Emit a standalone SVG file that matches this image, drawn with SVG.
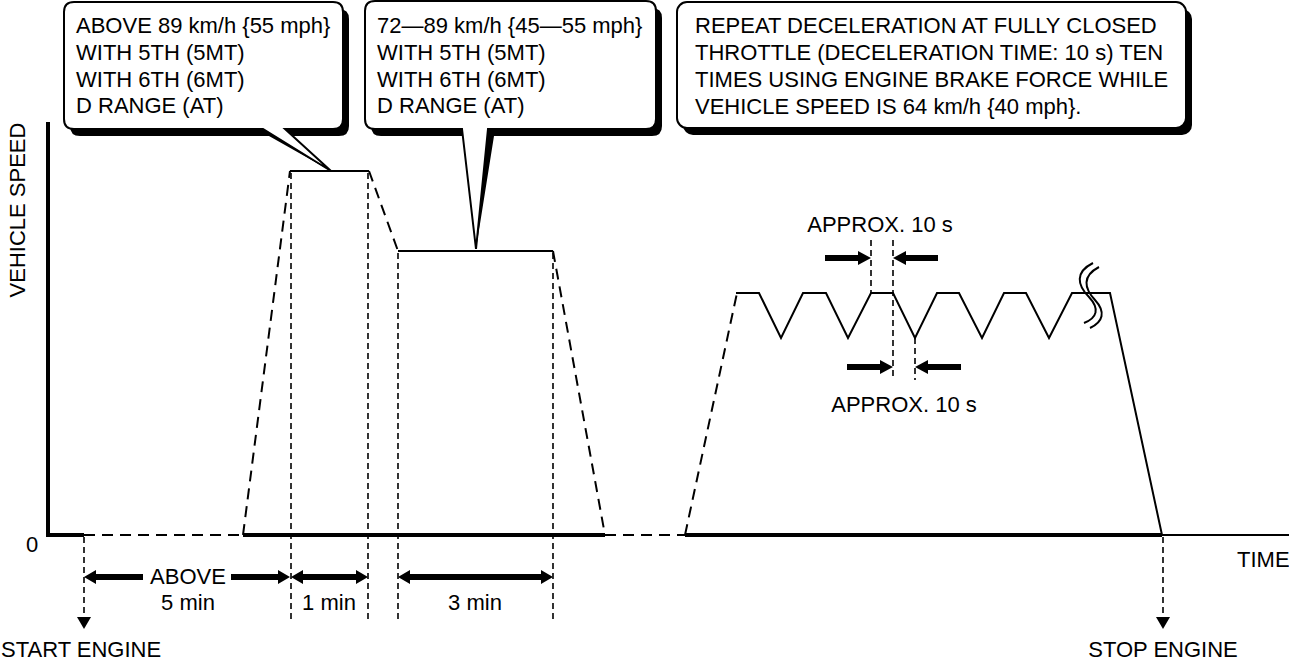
<svg xmlns="http://www.w3.org/2000/svg" width="1289" height="662" viewBox="0 0 1289 662">
<style>
text{font-family:"Liberation Sans",Arial,sans-serif;font-size:22px;fill:#000}
.shadow{fill:#000;stroke:none}
.bubble{fill:#fff;stroke:#000;stroke-width:2}
.thick{stroke:#000;stroke-width:4;fill:none}
.thin{stroke:#000;stroke-width:2;fill:none;stroke-linejoin:miter}
.dash{stroke:#000;stroke-width:2;fill:none;stroke-dasharray:11 7}
.guide{stroke:#000;stroke-width:1.6;fill:none;stroke-dasharray:6 4}
.arr{fill:#000;stroke:none}
</style>
<rect width="1289" height="662" fill="#fff"/>

<g id="callout1">
<path class="shadow" d="M80,9 H339 Q349,9 349,19 V126 Q349,136 339,136 H291 L331,171 L269,136 H80 Q70,136 70,126 V19 Q70,9 80,9 Z"/>
<path class="bubble" d="M74,2 H333 Q343,2 343,12 V119 Q343,129 333,129 H285 L331,171 L263,129 H74 Q64,129 64,119 V12 Q64,2 74,2 Z"/>
<text x="76" y="33">ABOVE 89 km/h {55 mph}</text>
<text x="76" y="60">WITH 5TH (5MT)</text>
<text x="76" y="87">WITH 6TH (6MT)</text>
<text x="76" y="113">D RANGE (AT)</text>
</g>

<g id="callout2">
<path class="shadow" d="M381,8 H652 Q662,8 662,18 V126 Q662,136 652,136 H494 L476,249 L468,136 H381 Q371,136 371,126 V18 Q371,8 381,8 Z"/>
<path class="bubble" d="M375,1 H646 Q656,1 656,11 V119 Q656,129 646,129 H488 L476,249 L462,129 H375 Q365,129 365,119 V11 Q365,1 375,1 Z"/>
<text x="377" y="33">72—89 km/h {45—55 mph}</text>
<text x="377" y="60">WITH 5TH (5MT)</text>
<text x="377" y="87">WITH 6TH (6MT)</text>
<text x="377" y="113">D RANGE (AT)</text>
</g>

<g id="callout3">
<rect class="shadow" x="683" y="9" width="509" height="126" rx="10"/>
<rect class="bubble" x="677" y="2" width="509" height="126" rx="10"/>
<text x="695" y="33">REPEAT DECELERATION AT FULLY CLOSED</text>
<text x="695" y="60">THROTTLE (DECELERATION TIME: 10 s) TEN</text>
<text x="695" y="87">TIMES USING ENGINE BRAKE FORCE WHILE</text>
<text x="695" y="114">VEHICLE SPEED IS 64 km/h {40 mph}.</text>
</g>

<g id="axes">
<path class="thick" d="M48,122 V535 H84"/>
<path class="dash" d="M84,535 H243"/>
<path class="thick" d="M243,535 H605"/>
<path class="dash" d="M605,535 H685"/>
<path class="thick" d="M685,535 H1162"/>
<path class="thin" d="M1162,535 H1289" stroke-width="1.6"/>
<text x="25" y="210" text-anchor="middle" transform="rotate(-90 18 210) translate(-7 7)">VEHICLE SPEED</text>
<text x="26" y="552">0</text>
<text x="1237" y="567">TIME</text>
</g>

<g id="profile1">
<path class="dash" d="M243,535 L290,171"/>
<path class="thin" d="M290,171 H369"/>
<path class="dash" d="M369,171 L398,251"/>
<path class="thin" d="M398,251 H553"/>
<path class="dash" d="M553,251 L605,535"/>
</g>

<g id="profile2">
<path class="dash" d="M685,535 L737,293"/>
<path class="thin" d="M736,293 H759 L781,338 L803,293 H826 L848,338 L871,293 H893 L915,338 L937,293 H959 L982,338 L1004,293 H1026 L1049,338 L1072,293 H1110 L1162,535"/>
<path class="thin" d="M1093,263 C1075,272 1077,285 1089,297 C1100,309 1097,318 1084,323"/>
<path class="thin" d="M1099,267 C1082,276 1084,288 1095,300 C1106,312 1103,322 1090,328"/>
</g>

<g id="connectors">
<path class="guide" d="M84,537 V617"/>
<path class="arr" d="M77,617 L91,617 L84,629 Z"/>
<path class="guide" d="M1163,537 V617"/>
<path class="arr" d="M1156,617 L1170,617 L1163,629 Z"/>
<path class="guide" d="M291,173 V623 M368,173 V623 M398,253 V623 M553,253 V623"/>
<path class="guide" d="M871,240 V293 M893,240 V380 M915,338 V380"/>
<path class="arr" d="M84,577 L96,570 V574 H143 V580 H96 V584 Z"/>
<path class="arr" d="M231,574 H278 V570 L290,577 L278,584 V580 H231 Z"/>
<path class="arr" d="M291,577 L303,570 V574 H356 V570 L368,577 L356,584 V580 H303 V584 Z"/>
<path class="arr" d="M398,577 L410,570 V574 H541 V570 L553,577 L541,584 V580 H410 V584 Z"/>
<path class="arr" d="M825,255 H858 V251 L871,258 L858,265 V261 H825 Z"/>
<path class="arr" d="M938,255 H906 V251 L893,258 L906,265 V261 H938 Z"/>
<path class="arr" d="M847,364 H880 V360 L893,367 L880,374 V370 H847 Z"/>
<path class="arr" d="M961,364 H928 V360 L915,367 L928,374 V370 H961 Z"/>
</g>

<g id="labels">
<text x="188" y="584" text-anchor="middle">ABOVE</text>
<text x="188" y="610" text-anchor="middle">5 min</text>
<text x="329" y="610" text-anchor="middle">1 min</text>
<text x="475" y="610" text-anchor="middle">3 min</text>
<text x="880" y="232" text-anchor="middle">APPROX. 10 s</text>
<text x="904" y="412" text-anchor="middle">APPROX. 10 s</text>
<text x="1" y="657">START ENGINE</text>
<text x="1163" y="657" text-anchor="middle">STOP ENGINE</text>
</g>
</svg>
